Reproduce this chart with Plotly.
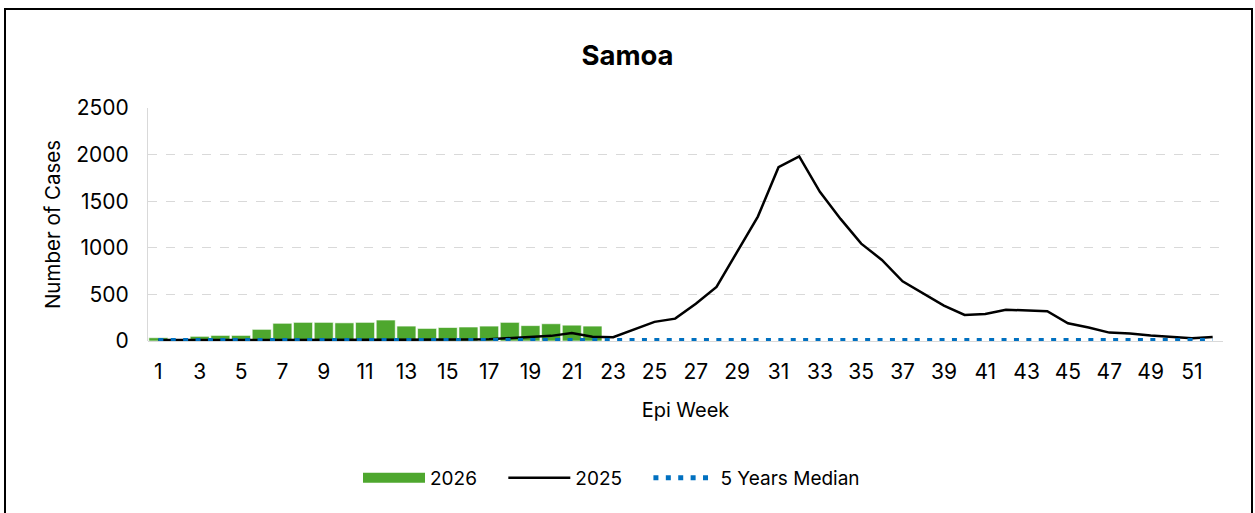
import plotly.graph_objects as go

weeks = list(range(1, 53))
weeks_2026 = list(range(1, 23))
cases_2026 = [35, 0, 50, 60, 60, 125, 190, 200, 200, 195, 200, 225, 160, 135, 145, 150, 160, 200, 165, 185, 170, 160]
cases_2025 = [10, 8, 8, 10, 10, 10, 10, 10, 10, 10, 10, 10, 12, 12, 12, 15, 20, 30, 40, 55, 85, 45, 40,
              125, 205, 240, 400, 580, 960, 1335, 1865, 1980, 1600, 1310, 1045, 870, 640, 510, 380, 280,
              290, 335, 325, 320, 190, 145, 90, 80, 60, 45, 30, 43]
median_5y = [5, 5, 5, 5, 5, 5, 5, 5, 5, 5, 5, 5, 5, 5, 8, 10, 12, 15, 15, 15, 12, 10, 10, 10, 12, 15,
             12, 10, 10, 10, 10, 10, 10, 10, 10, 10, 10, 10, 10, 10, 10, 10, 10, 10, 10, 10, 10, 10, 10, 10, 8, 5]
x_ticks = list(range(1, 52, 2))
y_ticks = [0, 500, 1000, 1500, 2000, 2500]
series_names = ["2026", "2025", "5 Years Median"]

FONT = "Inter"
GREEN = "#4EA72E"
PAD = "\u00a0" * 4  # extra spacing between legend entries

fig = go.Figure()
fig.add_trace(go.Bar(x=weeks_2026, y=cases_2026, name=series_names[0], marker_color=GREEN,
                     marker_line=dict(color="rgba(255,255,255,0.6)", width=1), width=0.92,
                     showlegend=False, legendgroup="2026"))
# legend entry for 2026 drawn as a wide filled swatch
fig.add_trace(go.Scatter(x=[None], y=[None], name=series_names[0] + PAD, mode="lines",
                         legendgroup="2026", line=dict(color=GREEN, width=13), hoverinfo="skip"))
fig.add_trace(go.Scatter(x=weeks, y=cases_2025, name=series_names[1] + PAD, mode="lines",
                         line=dict(color="#000000", width=2.5)))
fig.add_trace(go.Scatter(x=weeks, y=median_5y, name=series_names[2], mode="lines",
                         line=dict(color="#0070C0", width=5, dash="5px,7.4px")))

L, R, T, B = 148, 32, 108, 172
pw, ph = 1255 - L - R, 513 - T - B

def px_x(p):
    return (p - L) / pw

def px_y(p):
    return (513 - B - p) / ph

fig.update_layout(
    width=1255, height=513,
    margin=dict(l=L, r=R, t=T, b=B),
    paper_bgcolor="white", plot_bgcolor="white",
    font=dict(family=FONT, size=20, color="#000000"),
    title=dict(text="<b>Samoa</b>", x=0.5, xref="container", xanchor="center",
               y=1 - 55 / 513, yref="container", yanchor="middle",
               font=dict(size=27.5, family=FONT, color="#000000")),
    showlegend=True,
    legend=dict(orientation="h", x=358 / 1255, xref="container", xanchor="left",
                y=1 - 478 / 513, yref="container", yanchor="middle",
                font=dict(size=19), itemwidth=62, traceorder="normal"),
    bargap=0.08,
    xaxis=dict(range=[0.5, 52.5], tickmode="array", tickvals=x_ticks,
               ticktext=[str(t) for t in x_ticks], showgrid=False, zeroline=False,
               showline=False, ticks="", ticklabelstandoff=16, tickfont=dict(size=21),
               title=dict(text="Epi Week", standoff=19, font=dict(size=20))),
    yaxis=dict(range=[0, 2500], tickmode="array", tickvals=y_ticks,
               showgrid=True, gridcolor="#D9D9D9", griddash="dash", gridwidth=1,
               zeroline=True, zerolinecolor="#D9D9D9", zerolinewidth=1,
               showline=True, linecolor="#D9D9D9", linewidth=1, ticks="",
               ticklabelstandoff=14, tickfont=dict(size=21),
               title=dict(text="Number of Cases", standoff=10, font=dict(size=20.5))),
    shapes=[dict(type="rect", xref="paper", yref="paper",
                 x0=px_x(5), x1=px_x(1252), y0=px_y(530), y1=px_y(9),
                 line=dict(color="#000000", width=2), fillcolor="rgba(0,0,0,0)", layer="above")],
)

fig.write_html("out.html", config={"displayModeBar": False},
               post_script="document.body.style.margin='0';document.body.style.overflow='hidden';")
